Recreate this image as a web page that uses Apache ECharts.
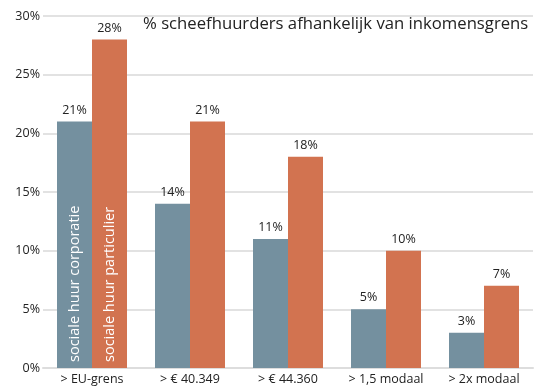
<!DOCTYPE html>
<html><head><meta charset="utf-8">
<script src="https://cdn.jsdelivr.net/npm/echarts@6/dist/echarts.min.js"></script>
<style>html,body{margin:0;padding:0;background:#fff}#c{width:550px;height:390px}</style>
</head><body><div id="c"></div>
<script>
const categories = ['> EU-grens', '> € 40.349', '> € 44.360', '> 1,5 modaal', '> 2x modaal'];
const corporatie = [21, 14, 11, 5, 3];
const particulier = [28, 21, 18, 10, 7];
const seriesNames = ['sociale huur corporatie', 'sociale huur particulier'];
const titleText = '% scheefhuurders afhankelijk van inkomensgrens';
const FONT = 'Open Sans';
const colors = ['#74909f', '#d27350'];

const chart = echarts.init(document.getElementById('c'), null, {renderer: 'canvas'});
function barSeries(name, data, color, xi, visible) {
  return {
    name: name, type: 'bar', data: data, xAxisIndex: xi,
    barWidth: 35, barGap: '0%',
    itemStyle: {color: visible ? color : 'rgba(0,0,0,0)'},
    silent: !visible,
    label: visible ? {
      show: true, position: 'top', distance: 5,
      formatter: p => p.value + '%', color: '#222', fontSize: 12.5, fontFamily: FONT
    } : {
      show: true, position: 'insideBottom', distance: 6, rotate: 90,
      align: 'left', verticalAlign: 'middle',
      formatter: p => p.dataIndex === 0 ? p.seriesName : '',
      color: '#fff', fontSize: 14.5, fontFamily: FONT
    }
  };
}
chart.setOption({
  animation: false,
  textStyle: {fontFamily: FONT},
  title: {text: titleText, left: 138, top: 11,
    textStyle: {fontSize: 16.7, fontWeight: 'normal', color: '#222', fontFamily: FONT}},
  grid: {left: 43, right: 17, top: 16, bottom: 22},
  xAxis: [{
    type: 'category', data: categories,
    axisLine: {show: true, lineStyle: {color: '#ddd', width: 2}},
    axisTick: {show: false},
    axisLabel: {color: '#222', fontSize: 12.5, margin: 5, fontFamily: FONT}
  }, {
    type: 'category', data: categories, show: false
  }],
  yAxis: {
    type: 'value', min: 0, max: 30, interval: 5,
    axisLabel: {formatter: '{value}%', color: '#222', fontSize: 12.5, margin: 3, fontFamily: FONT},
    splitLine: {lineStyle: {color: '#e2e2e2', width: 2}}
  },
  series: [
    barSeries(seriesNames[0], corporatie, colors[0], 0, true),
    barSeries(seriesNames[1], particulier, colors[1], 0, true),
    barSeries(seriesNames[0], corporatie, colors[0], 1, false),
    barSeries(seriesNames[1], particulier, colors[1], 1, false)
  ]
});
</script></body></html>
